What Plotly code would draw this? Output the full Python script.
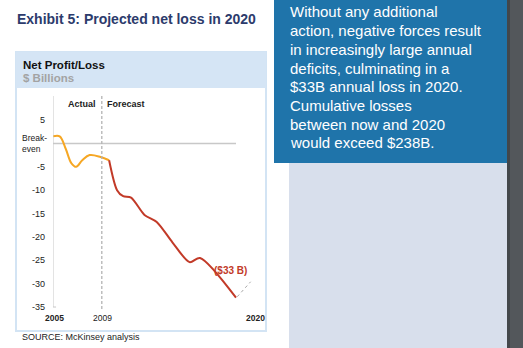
import plotly.graph_objects as go

W, H = 523, 348
FONT = "Liberation Sans, Arial, sans-serif"

# Actual results (2005-2009) and forecast (2009-2020), $ billions
actual_years = [2005.0, 2005.55, 2006.05, 2006.5, 2006.9, 2007.4, 2008.0, 2008.9, 2009.6]
actual_values = [1.5, 1.5, -1.2, -4.2, -5.0, -3.6, -2.5, -2.9, -3.6]
forecast_years = [2009.6, 2010.25, 2010.75, 2011.4, 2012.5, 2013.5, 2014.8, 2016.2, 2017.05, 2020.0]
forecast_values = [-3.6, -10.0, -11.3, -11.6, -15.3, -16.8, -21.2, -25.4, -24.5, -33.0]

ytick_vals = [5, -5, -10, -15, -20, -25, -30, -35]
ytick_text = ["5", "-5", "-10", "-15", "-20", "-25", "-30", "-35"]
xtick_years = [2005, 2009, 2020]
xtick_text = ["<b>2005</b>", "2009", "<b>2020</b>"]
final_label = "($33 B)"

side_lines = [
    "Without any additional",
    "action, negative forces result",
    "in increasingly large annual",
    "deficits, culminating in a",
    "$33B annual loss in 2020.",
    "Cumulative losses",
    "between now and 2020",
    "would exceed $238B.",
]


def px(x):
    return x / W


def py(y):
    return 1 - y / H


X0, X1 = 53, 266
PX_PER_YEAR = 12.2
Y_TOP, Y_BOT = 96, 310
ZERO_Y, PX_PER_UNIT = 143.4, 4.675
x_range = [2005, 2005 + (X1 - X0) / PX_PER_YEAR]
y_range = [(ZERO_Y - Y_BOT) / PX_PER_UNIT, (ZERO_Y - Y_TOP) / PX_PER_UNIT]

fig = go.Figure()
fig.add_trace(go.Scatter(x=actual_years, y=actual_values, mode="lines",
                         line=dict(color="#f6a724", width=2, shape="spline", smoothing=1.0),
                         hoverinfo="skip"))
fig.add_trace(go.Scatter(x=forecast_years, y=forecast_values, mode="lines",
                         line=dict(color="#c23a28", width=2, shape="spline", smoothing=0.8),
                         hoverinfo="skip"))

shapes = [
    # chart panel, header band and border
    dict(type="rect", xref="paper", yref="paper", x0=px(16), x1=px(266), y0=py(331), y1=py(52),
         fillcolor="white", line=dict(color="#d3e4f4", width=2), layer="below"),
    dict(type="rect", xref="paper", yref="paper", x0=px(16), x1=px(266), y0=py(88), y1=py(52),
         fillcolor="#d5e5f5", line=dict(width=0), layer="below"),
    # side panels
    dict(type="rect", xref="paper", yref="paper", x0=px(289), x1=px(507), y0=0, y1=py(163),
         fillcolor="#d8dfec", line=dict(width=0), layer="below"),
    dict(type="rect", xref="paper", yref="paper", x0=px(274), x1=px(507), y0=py(163), y1=1,
         fillcolor="#1f74aa", line=dict(width=0), layer="below"),
    dict(type="rect", xref="paper", yref="paper", x0=px(507), x1=1, y0=0, y1=1,
         fillcolor="#53575b", line=dict(width=0), layer="below"),
    dict(type="rect", xref="paper", yref="paper", x0=px(507), x1=px(510), y0=0, y1=1,
         fillcolor="#43474b", line=dict(width=0), layer="below"),
    # y axis line with a small foot
    dict(type="line", xref="x", yref="y", x0=2005, x1=2005, y0=y_range[1], y1=-35,
         line=dict(color="#c8c8c8", width=1)),
    dict(type="line", xref="x", yref="y", x0=2005, x1=2005.25, y0=-35, y1=-35,
         line=dict(color="#c8c8c8", width=1)),
    # break-even line
    dict(type="line", xref="x", yref="y", x0=2005, x1=2020, y0=0, y1=0,
         line=dict(color="#c8c8c8", width=1.5), layer="below"),
    # actual / forecast divider
    dict(type="line", xref="x", yref="y", x0=2009, x1=2009, y0=y_range[1], y1=y_range[0],
         line=dict(color="#b4b4b4", width=1.3, dash="3px,2px")),
    # leader from the final value to its label
    dict(type="line", xref="x", yref="y", x0=2020.1, x1=2021.2, y0=-32.8, y1=-29.6,
         line=dict(color="#a8a8a8", width=1, dash="dot")),
]

ann = []


def text(x, y, s, size, color="black", bold=False, xanchor="left", xref="paper", yref="paper", **kw):
    ann.append(dict(x=x, y=y, xref=xref, yref=yref, text=f"<b>{s}</b>" if bold else s,
                    showarrow=False, xanchor=xanchor, yanchor="middle",
                    font=dict(family=FONT, size=size, color=color), **kw))


text(px(15), py(19), "Exhibit 5: Projected net loss in 2020", 14, "#2c3b6c", True)
text(px(21), py(65), "Net Profit/Loss", 11.5, "#111111", True)
text(px(21), py(78), "$ Billions", 11.5, "#a3a3a3", True)
text(2009, py(104), "Actual", 9, "#222222", True, xanchor="right", xref="x", xshift=-4)
text(2009, py(104), "Forecast", 9, "#222222", True, xanchor="left", xref="x", xshift=3)
text(px(20), 0, "Break-<br>even", 8.5, "#222222", False, yref="y", align="left")
for v, t in zip(ytick_vals, ytick_text):
    text(px(47), v, t, 9, "#222222", False, xanchor="right", yref="y")
for yr, t in zip(xtick_years, xtick_text):
    text(yr, py(318), t, 8.5, "#222222", False, xanchor="center", xref="x",
         xshift=19 if yr == 2020 else 1)
text(2020, forecast_values[-1], f"<b>{final_label}</b>", 10, "#c23a28", False,
     xanchor="center", xref="x", yref="y", xshift=-6, yshift=27)
text(px(20), py(337), "SOURCE: McKinsey analysis", 9, "#222222", False)
for i, line in enumerate(side_lines):
    text(px(288), py(12 + i * 18.7), line, 15, "white", False)

fig.update_layout(
    width=W, height=H, margin=dict(l=0, r=0, t=0, b=0),
    paper_bgcolor="white", plot_bgcolor="rgba(0,0,0,0)", showlegend=False,
    xaxis=dict(domain=[px(X0), px(X1)], range=x_range, visible=False, fixedrange=True),
    yaxis=dict(domain=[py(Y_BOT), py(Y_TOP)], range=y_range, visible=False, fixedrange=True),
    shapes=shapes, annotations=ann,
)

fig.write_html("out.html")
